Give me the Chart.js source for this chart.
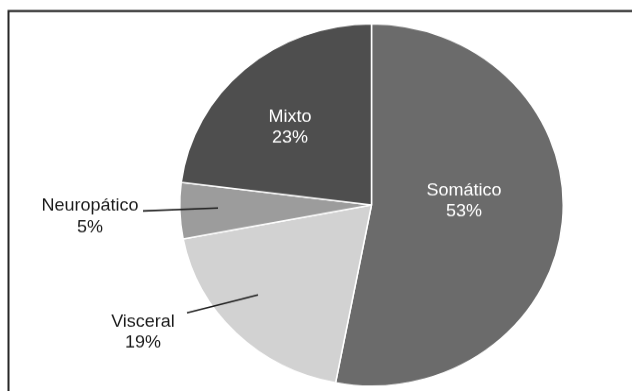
<!DOCTYPE html>
<html lang="es">
<head>
<meta charset="utf-8">
<title>Tipo de dolor</title>
<script src="https://cdn.jsdelivr.net/npm/chart.js@4.4.1/dist/chart.umd.min.js"></script>
<style>
  html, body { margin: 0; padding: 0; background: #fff; overflow: hidden; }
</style>
</head>
<body>
<!-- el lienzo se estira en vertical: la torta original es un poco ovalada -->
<canvas id="pie-chart" width="632" height="414" style="display:block;width:632px;height:391px"></canvas>
<script>
const PChart = document.getElementById("pie-chart");

const categorias = ["Somático", "Visceral", "Neuropático", "Mixto"];
const porcentajes = [53, 19, 5, 23];
const colores = ["#6b6b6b", "#d2d2d2", "#9c9c9c", "#4e4e4e"];
const colorTexto = ["#ffffff", "#1a1a1a", "#1a1a1a", "#ffffff"];

// posición de cada etiqueta respecto al centro de la torta (px de pantalla)
const etiquetas = [
  { dx: 92.5, dy: -4, linea: null },
  { dx: -228.5, dy: 127, linea: [-184.5, 108, -113.5, 90] },
  { dx: -281.5, dy: 11.5, linea: [-228.5, 6, -153.5, 3] },
  { dx: -81.5, dy: -77.5, linea: null },
];

const etiquetasPlugin = {
  id: "etiquetas",
  beforeDraw(chart) {
    const ctx = chart.ctx;
    const k = chart.canvas.height / chart.canvas.clientHeight;
    ctx.save();
    ctx.scale(1, k);
    // marco (solo arriba e izquierda, el resto queda recortado)
    ctx.strokeStyle = "#262626";
    ctx.lineWidth = 2;
    ctx.beginPath();
    ctx.moveTo(632, 11);
    ctx.lineTo(8.5, 11);
    ctx.lineTo(8.5, 391);
    ctx.stroke();
    ctx.restore();
  },
  afterDatasetsDraw(chart) {
    const ctx = chart.ctx;
    const k = chart.canvas.height / chart.canvas.clientHeight;
    const arcs = chart.getDatasetMeta(0).data;
    const cx = arcs[0].x;
    const cy = arcs[0].y / k;

    ctx.save();
    ctx.scale(1, k);
    ctx.font = "18px 'Liberation Sans', Arial, sans-serif";
    ctx.textAlign = "center";
    ctx.textBaseline = "middle";

    categorias.forEach((cat, i) => {
      const e = etiquetas[i];
      const x = cx + e.dx;
      const y = cy + e.dy;
      ctx.fillStyle = colorTexto[i];
      ctx.fillText(cat, x, y - 10.5);
      ctx.fillText(porcentajes[i] + "%", x, y + 10.5);

      if (e.linea) {
        ctx.strokeStyle = "#1a1a1a";
        ctx.lineWidth = 1.5;
        ctx.beginPath();
        ctx.moveTo(cx + e.linea[0], cy + e.linea[1]);
        ctx.lineTo(cx + e.linea[2], cy + e.linea[3]);
        ctx.stroke();
      }
    });
    ctx.restore();
  },
};

new Chart(PChart, {
  type: "pie",
  data: {
    labels: categorias,
    datasets: [
      {
        data: porcentajes,
        backgroundColor: colores,
        borderColor: "#ffffff",
        borderWidth: 1.5,
      },
    ],
  },
  options: {
    responsive: false,
    animation: false,
    layout: {
      padding: { left: 179, right: 68, top: 24.5, bottom: 4.5 },
    },
    plugins: {
      legend: { display: false },
      tooltip: { enabled: false },
    },
  },
  plugins: [etiquetasPlugin],
});
</script>
</body>
</html>
